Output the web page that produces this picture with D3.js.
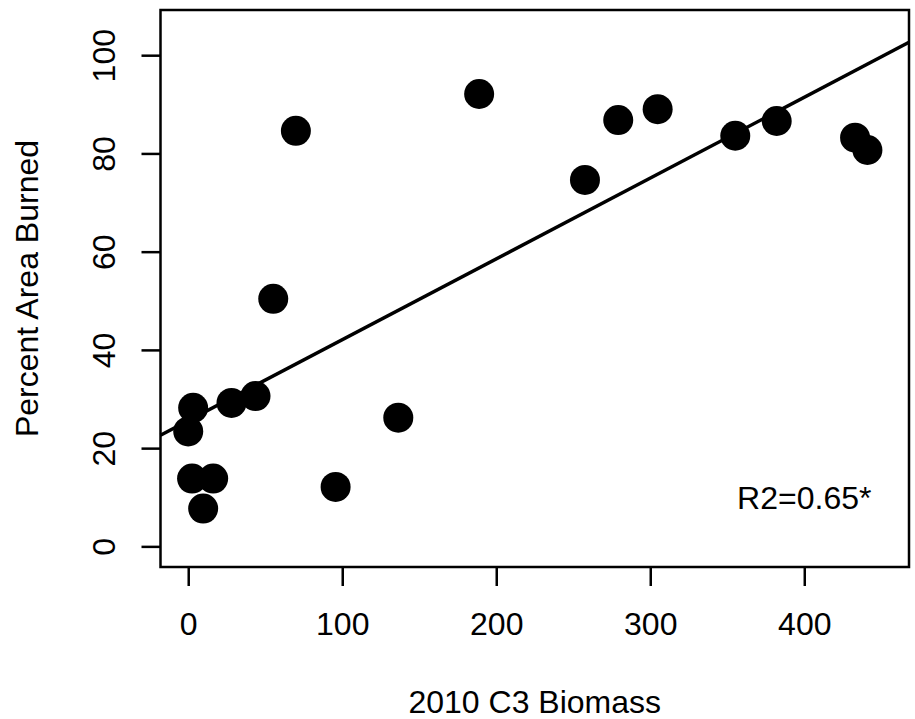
<!DOCTYPE html>
<html>
<head>
<meta charset="utf-8">
<script src="https://cdn.jsdelivr.net/npm/d3@7"></script>
<style>
  body { margin: 0; background: #fff; }
  svg text { font-family: "Liberation Sans", Arial, sans-serif; fill: #000; }
</style>
</head>
<body>
<div class="container"></div>
<script>
'use strict';

// Biomass (x) and percent burned (y)
const biomass = [0, 3.2, 2.5, 16.2, 9.7, 28.1, 43.7, 55.2, 69.9, 95.7, 136.4, 188.9, 257.6, 279.2, 304.8, 355.2, 382.1, 433.0, 441.0];
const burned  = [23.4, 28.2, 13.8, 13.8, 7.7, 29.2, 30.6, 50.4, 84.6, 12.1, 26.2, 92.1, 74.6, 86.8, 89.0, 83.6, 86.6, 83.2, 80.7];

// Fitted line
const fitIntercept = 25.6;
const fitSlope = 0.1646;

const xTicks = [0, 100, 200, 300, 400];
const yTicks = [0, 20, 40, 60, 80, 100];

const width = 915;
const height = 719;
const fontSize = 32;

const svg = d3.select("div.container").append("svg")
    .attr("width", width)
    .attr("height", height);

// plot region (R style, 4% padding on the limits)
const x = d3.scaleLinear().domain([-18, 468]).range([160.5, 909]);
const y = d3.scaleLinear().domain([-4.2, 109.2]).range([567, 10]);

// points
svg.selectAll("circle.pt")
    .data(biomass.map((b, i) => ({ b: b, p: burned[i] })))
    .enter()
    .append("circle")
    .attr("class", "pt")
    .attr("cx", d => x(d.b))
    .attr("cy", d => y(d.p))
    .attr("r", 15)
    .attr("fill", "#000");

// regression line across the whole plot region
const xd = x.domain();
svg.append("line")
    .attr("x1", x(xd[0])).attr("y1", y(fitIntercept + fitSlope * xd[0]))
    .attr("x2", x(xd[1])).attr("y2", y(fitIntercept + fitSlope * xd[1]))
    .attr("stroke", "#000")
    .attr("stroke-width", 3.5);

// box
svg.append("rect")
    .attr("x", 160.5).attr("y", 10)
    .attr("width", 909 - 160.5).attr("height", 567 - 10)
    .attr("fill", "none")
    .attr("stroke", "#000")
    .attr("stroke-width", 2.5);

// x axis
const xAxis = svg.append("g")
    .attr("transform", "translate(0,567)")
    .call(d3.axisBottom(x).tickValues(xTicks).tickSize(19).tickFormat(d3.format("d")));
xAxis.select(".domain").remove();
xAxis.selectAll("line").attr("stroke", "#000").attr("stroke-width", 2.5);
xAxis.selectAll("text")
    .attr("y", 68).attr("dy", null)
    .style("font-size", fontSize + "px")
    .style("font-family", "Liberation Sans, Arial, sans-serif");

// y axis, labels rotated like R's default las=0
const yAxis = svg.append("g")
    .attr("transform", "translate(160.5,0)")
    .call(d3.axisLeft(y).tickValues(yTicks).tickSize(19).tickFormat(d3.format("d")));
yAxis.select(".domain").remove();
yAxis.selectAll("line").attr("stroke", "#000").attr("stroke-width", 2.5);
yAxis.selectAll("text")
    .attr("x", null).attr("dy", null)
    .attr("text-anchor", "middle")
    .attr("transform", "translate(-45.5,0) rotate(-90)")
    .style("font-size", fontSize + "px")
    .style("font-family", "Liberation Sans, Arial, sans-serif");

// axis titles
svg.append("text")
    .attr("x", (160.5 + 909) / 2)
    .attr("y", 713)
    .attr("text-anchor", "middle")
    .style("font-size", fontSize + "px")
    .text("2010 C3 Biomass");

svg.append("text")
    .attr("transform", "translate(38," + (10 + 567) / 2 + ") rotate(-90)")
    .attr("text-anchor", "middle")
    .style("font-size", fontSize + "px")
    .text("Percent Area Burned");

// R squared note
svg.append("text")
    .attr("x", x(400))
    .attr("y", 509)
    .attr("text-anchor", "middle")
    .style("font-size", fontSize + "px")
    .text("R2=0.65*");
</script>
</body>
</html>
